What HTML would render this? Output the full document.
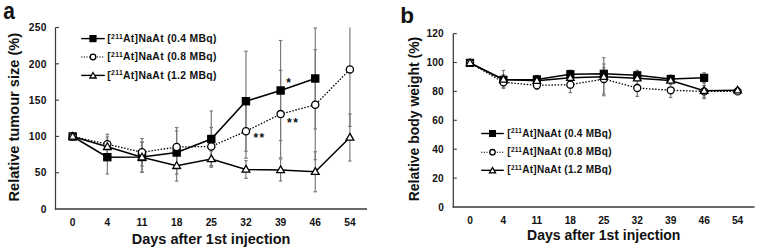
<!DOCTYPE html>
<html><head><meta charset="utf-8"><style>
html,body{margin:0;padding:0;background:#fff;}
body{width:760px;height:252px;overflow:hidden;}
svg{display:block;}
text{font-family:"Liberation Sans", sans-serif;font-weight:bold;fill:#111;}
</style></head><body>
<svg width="760" height="252" viewBox="0 0 760 252">
<rect width="760" height="252" fill="#fff"/>
<text transform="translate(3.2,18.5) scale(0.9,1)" font-size="23.2">a</text>
<line x1="55.5" y1="27.5" x2="55.5" y2="209.7" stroke="#3a3a3a" stroke-width="1.25"/>
<line x1="54.9" y1="209" x2="367" y2="209" stroke="#3a3a3a" stroke-width="1.45"/>
<text x="46.9" y="212.7" font-size="10.2" text-anchor="end" letter-spacing="0.4">0</text>
<line x1="55.5" y1="172.70" x2="59.0" y2="172.70" stroke="#3a3a3a" stroke-width="1.1"/>
<text x="46.9" y="176.39999999999998" font-size="10.2" text-anchor="end" letter-spacing="0.4">50</text>
<line x1="55.5" y1="136.40" x2="59.0" y2="136.40" stroke="#3a3a3a" stroke-width="1.1"/>
<text x="46.9" y="140.1" font-size="10.2" text-anchor="end" letter-spacing="0.4">100</text>
<line x1="55.5" y1="100.10" x2="59.0" y2="100.10" stroke="#3a3a3a" stroke-width="1.1"/>
<text x="46.9" y="103.8" font-size="10.2" text-anchor="end" letter-spacing="0.4">150</text>
<line x1="55.5" y1="63.80" x2="59.0" y2="63.80" stroke="#3a3a3a" stroke-width="1.1"/>
<text x="46.9" y="67.50000000000001" font-size="10.2" text-anchor="end" letter-spacing="0.4">200</text>
<line x1="55.5" y1="27.50" x2="59.0" y2="27.50" stroke="#3a3a3a" stroke-width="1.1"/>
<text x="46.9" y="31.2" font-size="10.2" text-anchor="end" letter-spacing="0.4">250</text>
<text x="72.70" y="225.8" font-size="10.2" text-anchor="middle" >0</text>
<text x="107.35" y="225.8" font-size="10.2" text-anchor="middle" >4</text>
<text x="142.00" y="225.8" font-size="10.2" text-anchor="middle" >11</text>
<text x="176.65" y="225.8" font-size="10.2" text-anchor="middle" >18</text>
<text x="211.30" y="225.8" font-size="10.2" text-anchor="middle" >25</text>
<text x="245.95" y="225.8" font-size="10.2" text-anchor="middle" >32</text>
<text x="280.60" y="225.8" font-size="10.2" text-anchor="middle" >39</text>
<text x="315.25" y="225.8" font-size="10.2" text-anchor="middle" >46</text>
<text x="349.90" y="225.8" font-size="10.2" text-anchor="middle" >54</text>
<text x="211.1" y="244" font-size="14.5" text-anchor="middle" >Days after 1st injection</text>
<text transform="translate(19.0,117.2) rotate(-90)" font-size="14.5" text-anchor="middle" textLength="168.5" lengthAdjust="spacingAndGlyphs">Relative tumour size (%)</text>
<line x1="107.35" y1="140.40" x2="107.35" y2="174.00" stroke="#777" stroke-width="1.15"/>
<line x1="105.60" y1="140.40" x2="109.10" y2="140.40" stroke="#777" stroke-width="1.15"/>
<line x1="105.60" y1="174.00" x2="109.10" y2="174.00" stroke="#777" stroke-width="1.15"/>
<line x1="142.00" y1="142.00" x2="142.00" y2="172.00" stroke="#777" stroke-width="1.15"/>
<line x1="140.25" y1="142.00" x2="143.75" y2="142.00" stroke="#777" stroke-width="1.15"/>
<line x1="140.25" y1="172.00" x2="143.75" y2="172.00" stroke="#777" stroke-width="1.15"/>
<line x1="176.65" y1="131.00" x2="176.65" y2="174.00" stroke="#777" stroke-width="1.15"/>
<line x1="174.90" y1="131.00" x2="178.40" y2="131.00" stroke="#777" stroke-width="1.15"/>
<line x1="174.90" y1="174.00" x2="178.40" y2="174.00" stroke="#777" stroke-width="1.15"/>
<line x1="211.30" y1="111.00" x2="211.30" y2="167.00" stroke="#777" stroke-width="1.15"/>
<line x1="209.55" y1="111.00" x2="213.05" y2="111.00" stroke="#777" stroke-width="1.15"/>
<line x1="209.55" y1="167.00" x2="213.05" y2="167.00" stroke="#777" stroke-width="1.15"/>
<line x1="245.95" y1="51.25" x2="245.95" y2="151.25" stroke="#777" stroke-width="1.15"/>
<line x1="244.20" y1="51.25" x2="247.70" y2="51.25" stroke="#777" stroke-width="1.15"/>
<line x1="244.20" y1="151.25" x2="247.70" y2="151.25" stroke="#777" stroke-width="1.15"/>
<line x1="280.60" y1="40.50" x2="280.60" y2="140.50" stroke="#777" stroke-width="1.15"/>
<line x1="278.85" y1="40.50" x2="282.35" y2="40.50" stroke="#777" stroke-width="1.15"/>
<line x1="278.85" y1="140.50" x2="282.35" y2="140.50" stroke="#777" stroke-width="1.15"/>
<line x1="315.25" y1="28.00" x2="315.25" y2="129.00" stroke="#777" stroke-width="1.15"/>
<line x1="313.50" y1="28.00" x2="317.00" y2="28.00" stroke="#777" stroke-width="1.15"/>
<line x1="313.50" y1="129.00" x2="317.00" y2="129.00" stroke="#777" stroke-width="1.15"/>
<line x1="107.35" y1="134.20" x2="107.35" y2="154.20" stroke="#777" stroke-width="1.15"/>
<line x1="105.60" y1="134.20" x2="109.10" y2="134.20" stroke="#777" stroke-width="1.15"/>
<line x1="105.60" y1="154.20" x2="109.10" y2="154.20" stroke="#777" stroke-width="1.15"/>
<line x1="142.00" y1="138.50" x2="142.00" y2="166.10" stroke="#777" stroke-width="1.15"/>
<line x1="140.25" y1="138.50" x2="143.75" y2="138.50" stroke="#777" stroke-width="1.15"/>
<line x1="140.25" y1="166.10" x2="143.75" y2="166.10" stroke="#777" stroke-width="1.15"/>
<line x1="176.65" y1="127.60" x2="176.65" y2="166.40" stroke="#777" stroke-width="1.15"/>
<line x1="174.90" y1="127.60" x2="178.40" y2="127.60" stroke="#777" stroke-width="1.15"/>
<line x1="174.90" y1="166.40" x2="178.40" y2="166.40" stroke="#777" stroke-width="1.15"/>
<line x1="211.30" y1="127.50" x2="211.30" y2="165.50" stroke="#777" stroke-width="1.15"/>
<line x1="209.55" y1="127.50" x2="213.05" y2="127.50" stroke="#777" stroke-width="1.15"/>
<line x1="209.55" y1="165.50" x2="213.05" y2="165.50" stroke="#777" stroke-width="1.15"/>
<line x1="245.95" y1="104.25" x2="245.95" y2="158.25" stroke="#777" stroke-width="1.15"/>
<line x1="244.20" y1="104.25" x2="247.70" y2="104.25" stroke="#777" stroke-width="1.15"/>
<line x1="244.20" y1="158.25" x2="247.70" y2="158.25" stroke="#777" stroke-width="1.15"/>
<line x1="280.60" y1="70.40" x2="280.60" y2="157.80" stroke="#777" stroke-width="1.15"/>
<line x1="278.85" y1="70.40" x2="282.35" y2="70.40" stroke="#777" stroke-width="1.15"/>
<line x1="278.85" y1="157.80" x2="282.35" y2="157.80" stroke="#777" stroke-width="1.15"/>
<line x1="315.25" y1="49.75" x2="315.25" y2="159.75" stroke="#777" stroke-width="1.15"/>
<line x1="313.50" y1="49.75" x2="317.00" y2="49.75" stroke="#777" stroke-width="1.15"/>
<line x1="313.50" y1="159.75" x2="317.00" y2="159.75" stroke="#777" stroke-width="1.15"/>
<line x1="349.90" y1="27.50" x2="349.90" y2="126.40" stroke="#777" stroke-width="1.15"/>
<line x1="348.15" y1="126.40" x2="351.65" y2="126.40" stroke="#777" stroke-width="1.15"/>
<line x1="107.35" y1="137.00" x2="107.35" y2="156.60" stroke="#777" stroke-width="1.15"/>
<line x1="105.60" y1="137.00" x2="109.10" y2="137.00" stroke="#777" stroke-width="1.15"/>
<line x1="105.60" y1="156.60" x2="109.10" y2="156.60" stroke="#777" stroke-width="1.15"/>
<line x1="142.00" y1="142.30" x2="142.00" y2="172.30" stroke="#777" stroke-width="1.15"/>
<line x1="140.25" y1="142.30" x2="143.75" y2="142.30" stroke="#777" stroke-width="1.15"/>
<line x1="140.25" y1="172.30" x2="143.75" y2="172.30" stroke="#777" stroke-width="1.15"/>
<line x1="176.65" y1="150.50" x2="176.65" y2="181.10" stroke="#777" stroke-width="1.15"/>
<line x1="174.90" y1="150.50" x2="178.40" y2="150.50" stroke="#777" stroke-width="1.15"/>
<line x1="174.90" y1="181.10" x2="178.40" y2="181.10" stroke="#777" stroke-width="1.15"/>
<line x1="211.30" y1="151.00" x2="211.30" y2="167.00" stroke="#777" stroke-width="1.15"/>
<line x1="209.55" y1="151.00" x2="213.05" y2="151.00" stroke="#777" stroke-width="1.15"/>
<line x1="209.55" y1="167.00" x2="213.05" y2="167.00" stroke="#777" stroke-width="1.15"/>
<line x1="245.95" y1="160.70" x2="245.95" y2="178.30" stroke="#777" stroke-width="1.15"/>
<line x1="244.20" y1="160.70" x2="247.70" y2="160.70" stroke="#777" stroke-width="1.15"/>
<line x1="244.20" y1="178.30" x2="247.70" y2="178.30" stroke="#777" stroke-width="1.15"/>
<line x1="280.60" y1="159.00" x2="280.60" y2="181.00" stroke="#777" stroke-width="1.15"/>
<line x1="278.85" y1="159.00" x2="282.35" y2="159.00" stroke="#777" stroke-width="1.15"/>
<line x1="278.85" y1="181.00" x2="282.35" y2="181.00" stroke="#777" stroke-width="1.15"/>
<line x1="315.25" y1="151.75" x2="315.25" y2="191.75" stroke="#777" stroke-width="1.15"/>
<line x1="313.50" y1="151.75" x2="317.00" y2="151.75" stroke="#777" stroke-width="1.15"/>
<line x1="313.50" y1="191.75" x2="317.00" y2="191.75" stroke="#777" stroke-width="1.15"/>
<line x1="349.90" y1="114.00" x2="349.90" y2="161.00" stroke="#777" stroke-width="1.15"/>
<line x1="348.15" y1="114.00" x2="351.65" y2="114.00" stroke="#777" stroke-width="1.15"/>
<line x1="348.15" y1="161.00" x2="351.65" y2="161.00" stroke="#777" stroke-width="1.15"/>
<polyline points="72.70,136.50 107.35,157.20 142.00,157.00 176.65,152.50 211.30,139.00 245.95,101.25 280.60,90.50 315.25,78.50" fill="none" stroke="#000" stroke-width="1.5"/>
<polyline points="72.70,136.50 107.35,144.20 142.00,152.30 176.65,147.00 211.30,146.50 245.95,131.25 280.60,114.10 315.25,104.75 349.90,69.40" fill="none" stroke="#000" stroke-width="1.3" stroke-dasharray="1.5,1.6"/>
<polyline points="72.70,136.50 107.35,146.80 142.00,157.30 176.65,165.80 211.30,159.00 245.95,169.50 280.60,170.00 315.25,171.75 349.90,137.50" fill="none" stroke="#000" stroke-width="1.5"/>
<rect x="69.10" y="132.90" width="7.2" height="7.2" fill="#000" stroke="#000" stroke-width="1.2"/>
<rect x="103.75" y="153.60" width="7.2" height="7.2" fill="#000" stroke="#000" stroke-width="1.2"/>
<rect x="138.40" y="153.40" width="7.2" height="7.2" fill="#000" stroke="#000" stroke-width="1.2"/>
<rect x="173.05" y="148.90" width="7.2" height="7.2" fill="#000" stroke="#000" stroke-width="1.2"/>
<rect x="207.70" y="135.40" width="7.2" height="7.2" fill="#000" stroke="#000" stroke-width="1.2"/>
<rect x="242.35" y="97.65" width="7.2" height="7.2" fill="#000" stroke="#000" stroke-width="1.2"/>
<rect x="277.00" y="86.90" width="7.2" height="7.2" fill="#000" stroke="#000" stroke-width="1.2"/>
<rect x="311.65" y="74.90" width="7.2" height="7.2" fill="#000" stroke="#000" stroke-width="1.2"/>
<circle cx="72.70" cy="136.50" r="3.6" fill="#fff" stroke="#000" stroke-width="1.3"/>
<circle cx="107.35" cy="144.20" r="3.6" fill="#fff" stroke="#000" stroke-width="1.3"/>
<circle cx="142.00" cy="152.30" r="3.6" fill="#fff" stroke="#000" stroke-width="1.3"/>
<circle cx="176.65" cy="147.00" r="3.6" fill="#fff" stroke="#000" stroke-width="1.3"/>
<circle cx="211.30" cy="146.50" r="3.6" fill="#fff" stroke="#000" stroke-width="1.3"/>
<circle cx="245.95" cy="131.25" r="3.6" fill="#fff" stroke="#000" stroke-width="1.3"/>
<circle cx="280.60" cy="114.10" r="3.6" fill="#fff" stroke="#000" stroke-width="1.3"/>
<circle cx="315.25" cy="104.75" r="3.6" fill="#fff" stroke="#000" stroke-width="1.3"/>
<circle cx="349.90" cy="69.40" r="3.6" fill="#fff" stroke="#000" stroke-width="1.3"/>
<polygon points="72.70,132.43 76.60,139.21 68.80,139.21" fill="#fff" stroke="#000" stroke-width="1.3" stroke-linejoin="miter"/>
<polygon points="107.35,142.73 111.25,149.51 103.45,149.51" fill="#fff" stroke="#000" stroke-width="1.3" stroke-linejoin="miter"/>
<polygon points="142.00,153.23 145.90,160.01 138.10,160.01" fill="#fff" stroke="#000" stroke-width="1.3" stroke-linejoin="miter"/>
<polygon points="176.65,161.73 180.55,168.51 172.75,168.51" fill="#fff" stroke="#000" stroke-width="1.3" stroke-linejoin="miter"/>
<polygon points="211.30,154.93 215.20,161.71 207.40,161.71" fill="#fff" stroke="#000" stroke-width="1.3" stroke-linejoin="miter"/>
<polygon points="245.95,165.43 249.85,172.21 242.05,172.21" fill="#fff" stroke="#000" stroke-width="1.3" stroke-linejoin="miter"/>
<polygon points="280.60,165.93 284.50,172.71 276.70,172.71" fill="#fff" stroke="#000" stroke-width="1.3" stroke-linejoin="miter"/>
<polygon points="315.25,167.68 319.15,174.46 311.35,174.46" fill="#fff" stroke="#000" stroke-width="1.3" stroke-linejoin="miter"/>
<polygon points="349.90,133.43 353.80,140.21 346.00,140.21" fill="#fff" stroke="#000" stroke-width="1.3" stroke-linejoin="miter"/>
<text x="286.2" y="87.15" font-size="12" text-anchor="start" font-weight="normal" letter-spacing="1.4">*</text>
<text x="253.4" y="142.1" font-size="12" text-anchor="start" font-weight="normal" letter-spacing="1.4">**</text>
<text x="287.1" y="127.3" font-size="12" text-anchor="start" font-weight="normal" letter-spacing="1.4">**</text>
<line x1="81.2" y1="38.6" x2="104.8" y2="38.6" stroke="#000" stroke-width="1.4"/>
<rect x="90.00" y="35.60" width="6.0" height="6.0" fill="#000" stroke="#000" stroke-width="1.2"/>
<text x="107.3" y="42.0" font-size="10.4" letter-spacing="0.32">[<tspan font-size="6.8" dy="-3.43">211</tspan><tspan dy="3.43">At]NaAt (0.4 MBq)</tspan></text>
<line x1="81.2" y1="57.0" x2="104.8" y2="57.0" stroke="#000" stroke-width="1.1" stroke-dasharray="1.2,1.4"/>
<circle cx="93.00" cy="57.00" r="2.8" fill="#fff" stroke="#000" stroke-width="1.3"/>
<text x="107.3" y="60.4" font-size="10.4" letter-spacing="0.32">[<tspan font-size="6.8" dy="-3.43">211</tspan><tspan dy="3.43">At]NaAt (0.8 MBq)</tspan></text>
<line x1="81.2" y1="75.4" x2="104.8" y2="75.4" stroke="#000" stroke-width="1.4"/>
<polygon points="93.00,72.51 96.15,77.99 89.85,77.99" fill="#fff" stroke="#000" stroke-width="1.3" stroke-linejoin="miter"/>
<text x="107.3" y="78.80000000000001" font-size="10.4" letter-spacing="0.32">[<tspan font-size="6.8" dy="-3.43">211</tspan><tspan dy="3.43">At]NaAt (1.2 MBq)</tspan></text>
<text x="400.2" y="23.3" font-size="22.5" text-anchor="start" >b</text>
<line x1="453.3" y1="33.6" x2="453.3" y2="207.7" stroke="#3a3a3a" stroke-width="1.25"/>
<line x1="452.7" y1="207" x2="754.5" y2="207" stroke="#3a3a3a" stroke-width="1.45"/>
<text x="443.9" y="210.6" font-size="10.1" text-anchor="end" letter-spacing="0.15">0</text>
<line x1="453.3" y1="178.10" x2="456.8" y2="178.10" stroke="#3a3a3a" stroke-width="1.1"/>
<text x="443.9" y="181.7" font-size="10.1" text-anchor="end" letter-spacing="0.15">20</text>
<line x1="453.3" y1="149.20" x2="456.8" y2="149.20" stroke="#3a3a3a" stroke-width="1.1"/>
<text x="443.9" y="152.79999999999998" font-size="10.1" text-anchor="end" letter-spacing="0.15">40</text>
<line x1="453.3" y1="120.30" x2="456.8" y2="120.30" stroke="#3a3a3a" stroke-width="1.1"/>
<text x="443.9" y="123.89999999999999" font-size="10.1" text-anchor="end" letter-spacing="0.15">60</text>
<line x1="453.3" y1="91.40" x2="456.8" y2="91.40" stroke="#3a3a3a" stroke-width="1.1"/>
<text x="443.9" y="95.0" font-size="10.1" text-anchor="end" letter-spacing="0.15">80</text>
<line x1="453.3" y1="62.50" x2="456.8" y2="62.50" stroke="#3a3a3a" stroke-width="1.1"/>
<text x="443.9" y="66.1" font-size="10.1" text-anchor="end" letter-spacing="0.15">100</text>
<line x1="453.3" y1="33.60" x2="456.8" y2="33.60" stroke="#3a3a3a" stroke-width="1.1"/>
<text x="443.9" y="37.199999999999996" font-size="10.1" text-anchor="end" letter-spacing="0.15">120</text>
<text x="470.00" y="223.5" font-size="10.2" text-anchor="middle" >0</text>
<text x="503.45" y="223.5" font-size="10.2" text-anchor="middle" >4</text>
<text x="536.90" y="223.5" font-size="10.2" text-anchor="middle" >11</text>
<text x="570.35" y="223.5" font-size="10.2" text-anchor="middle" >18</text>
<text x="603.80" y="223.5" font-size="10.2" text-anchor="middle" >25</text>
<text x="637.25" y="223.5" font-size="10.2" text-anchor="middle" >32</text>
<text x="670.70" y="223.5" font-size="10.2" text-anchor="middle" >39</text>
<text x="704.15" y="223.5" font-size="10.2" text-anchor="middle" >46</text>
<text x="737.60" y="223.5" font-size="10.2" text-anchor="middle" >54</text>
<text x="603.75" y="239.6" font-size="14" text-anchor="middle" >Days after 1st injection</text>
<text transform="translate(418.5,119.0) rotate(-90)" font-size="14" text-anchor="middle" textLength="164.5" lengthAdjust="spacingAndGlyphs">Relative body weight (%)</text>
<line x1="503.45" y1="74.80" x2="503.45" y2="84.80" stroke="#777" stroke-width="1.15"/>
<line x1="501.70" y1="74.80" x2="505.20" y2="74.80" stroke="#777" stroke-width="1.15"/>
<line x1="501.70" y1="84.80" x2="505.20" y2="84.80" stroke="#777" stroke-width="1.15"/>
<line x1="536.90" y1="75.40" x2="536.90" y2="83.40" stroke="#777" stroke-width="1.15"/>
<line x1="535.15" y1="75.40" x2="538.65" y2="75.40" stroke="#777" stroke-width="1.15"/>
<line x1="535.15" y1="83.40" x2="538.65" y2="83.40" stroke="#777" stroke-width="1.15"/>
<line x1="570.35" y1="70.20" x2="570.35" y2="78.20" stroke="#777" stroke-width="1.15"/>
<line x1="568.60" y1="70.20" x2="572.10" y2="70.20" stroke="#777" stroke-width="1.15"/>
<line x1="568.60" y1="78.20" x2="572.10" y2="78.20" stroke="#777" stroke-width="1.15"/>
<line x1="603.80" y1="67.75" x2="603.80" y2="79.75" stroke="#777" stroke-width="1.15"/>
<line x1="602.05" y1="67.75" x2="605.55" y2="67.75" stroke="#777" stroke-width="1.15"/>
<line x1="602.05" y1="79.75" x2="605.55" y2="79.75" stroke="#777" stroke-width="1.15"/>
<line x1="637.25" y1="70.30" x2="637.25" y2="80.30" stroke="#777" stroke-width="1.15"/>
<line x1="635.50" y1="70.30" x2="639.00" y2="70.30" stroke="#777" stroke-width="1.15"/>
<line x1="635.50" y1="80.30" x2="639.00" y2="80.30" stroke="#777" stroke-width="1.15"/>
<line x1="670.70" y1="75.00" x2="670.70" y2="83.00" stroke="#777" stroke-width="1.15"/>
<line x1="668.95" y1="75.00" x2="672.45" y2="75.00" stroke="#777" stroke-width="1.15"/>
<line x1="668.95" y1="83.00" x2="672.45" y2="83.00" stroke="#777" stroke-width="1.15"/>
<line x1="704.15" y1="72.80" x2="704.15" y2="82.80" stroke="#777" stroke-width="1.15"/>
<line x1="702.40" y1="72.80" x2="705.90" y2="72.80" stroke="#777" stroke-width="1.15"/>
<line x1="702.40" y1="82.80" x2="705.90" y2="82.80" stroke="#777" stroke-width="1.15"/>
<line x1="503.45" y1="77.30" x2="503.45" y2="87.30" stroke="#777" stroke-width="1.15"/>
<line x1="501.70" y1="77.30" x2="505.20" y2="77.30" stroke="#777" stroke-width="1.15"/>
<line x1="501.70" y1="87.30" x2="505.20" y2="87.30" stroke="#777" stroke-width="1.15"/>
<line x1="536.90" y1="81.30" x2="536.90" y2="89.30" stroke="#777" stroke-width="1.15"/>
<line x1="535.15" y1="81.30" x2="538.65" y2="81.30" stroke="#777" stroke-width="1.15"/>
<line x1="535.15" y1="89.30" x2="538.65" y2="89.30" stroke="#777" stroke-width="1.15"/>
<line x1="570.35" y1="76.70" x2="570.35" y2="92.70" stroke="#777" stroke-width="1.15"/>
<line x1="568.60" y1="76.70" x2="572.10" y2="76.70" stroke="#777" stroke-width="1.15"/>
<line x1="568.60" y1="92.70" x2="572.10" y2="92.70" stroke="#777" stroke-width="1.15"/>
<line x1="603.80" y1="64.00" x2="603.80" y2="94.00" stroke="#777" stroke-width="1.15"/>
<line x1="602.05" y1="64.00" x2="605.55" y2="64.00" stroke="#777" stroke-width="1.15"/>
<line x1="602.05" y1="94.00" x2="605.55" y2="94.00" stroke="#777" stroke-width="1.15"/>
<line x1="637.25" y1="79.60" x2="637.25" y2="96.40" stroke="#777" stroke-width="1.15"/>
<line x1="635.50" y1="79.60" x2="639.00" y2="79.60" stroke="#777" stroke-width="1.15"/>
<line x1="635.50" y1="96.40" x2="639.00" y2="96.40" stroke="#777" stroke-width="1.15"/>
<line x1="670.70" y1="83.10" x2="670.70" y2="97.50" stroke="#777" stroke-width="1.15"/>
<line x1="668.95" y1="83.10" x2="672.45" y2="83.10" stroke="#777" stroke-width="1.15"/>
<line x1="668.95" y1="97.50" x2="672.45" y2="97.50" stroke="#777" stroke-width="1.15"/>
<line x1="704.15" y1="85.40" x2="704.15" y2="97.40" stroke="#777" stroke-width="1.15"/>
<line x1="702.40" y1="85.40" x2="705.90" y2="85.40" stroke="#777" stroke-width="1.15"/>
<line x1="702.40" y1="97.40" x2="705.90" y2="97.40" stroke="#777" stroke-width="1.15"/>
<line x1="737.60" y1="89.40" x2="737.60" y2="93.40" stroke="#777" stroke-width="1.15"/>
<line x1="735.85" y1="89.40" x2="739.35" y2="89.40" stroke="#777" stroke-width="1.15"/>
<line x1="735.85" y1="93.40" x2="739.35" y2="93.40" stroke="#777" stroke-width="1.15"/>
<line x1="503.45" y1="70.40" x2="503.45" y2="88.40" stroke="#777" stroke-width="1.15"/>
<line x1="501.70" y1="70.40" x2="505.20" y2="70.40" stroke="#777" stroke-width="1.15"/>
<line x1="501.70" y1="88.40" x2="505.20" y2="88.40" stroke="#777" stroke-width="1.15"/>
<line x1="536.90" y1="76.75" x2="536.90" y2="84.75" stroke="#777" stroke-width="1.15"/>
<line x1="535.15" y1="76.75" x2="538.65" y2="76.75" stroke="#777" stroke-width="1.15"/>
<line x1="535.15" y1="84.75" x2="538.65" y2="84.75" stroke="#777" stroke-width="1.15"/>
<line x1="570.35" y1="73.80" x2="570.35" y2="81.80" stroke="#777" stroke-width="1.15"/>
<line x1="568.60" y1="73.80" x2="572.10" y2="73.80" stroke="#777" stroke-width="1.15"/>
<line x1="568.60" y1="81.80" x2="572.10" y2="81.80" stroke="#777" stroke-width="1.15"/>
<line x1="603.80" y1="57.70" x2="603.80" y2="95.70" stroke="#777" stroke-width="1.15"/>
<line x1="602.05" y1="57.70" x2="605.55" y2="57.70" stroke="#777" stroke-width="1.15"/>
<line x1="602.05" y1="95.70" x2="605.55" y2="95.70" stroke="#777" stroke-width="1.15"/>
<line x1="637.25" y1="72.30" x2="637.25" y2="84.30" stroke="#777" stroke-width="1.15"/>
<line x1="635.50" y1="72.30" x2="639.00" y2="72.30" stroke="#777" stroke-width="1.15"/>
<line x1="635.50" y1="84.30" x2="639.00" y2="84.30" stroke="#777" stroke-width="1.15"/>
<line x1="670.70" y1="76.50" x2="670.70" y2="84.50" stroke="#777" stroke-width="1.15"/>
<line x1="668.95" y1="76.50" x2="672.45" y2="76.50" stroke="#777" stroke-width="1.15"/>
<line x1="668.95" y1="84.50" x2="672.45" y2="84.50" stroke="#777" stroke-width="1.15"/>
<line x1="704.15" y1="82.70" x2="704.15" y2="98.70" stroke="#777" stroke-width="1.15"/>
<line x1="702.40" y1="82.70" x2="705.90" y2="82.70" stroke="#777" stroke-width="1.15"/>
<line x1="702.40" y1="98.70" x2="705.90" y2="98.70" stroke="#777" stroke-width="1.15"/>
<line x1="737.60" y1="88.30" x2="737.60" y2="92.30" stroke="#777" stroke-width="1.15"/>
<line x1="735.85" y1="88.30" x2="739.35" y2="88.30" stroke="#777" stroke-width="1.15"/>
<line x1="735.85" y1="92.30" x2="739.35" y2="92.30" stroke="#777" stroke-width="1.15"/>
<polyline points="470.00,62.90 503.45,79.80 536.90,79.40 570.35,74.20 603.80,73.75 637.25,75.30 670.70,79.00 704.15,77.80" fill="none" stroke="#000" stroke-width="1.5"/>
<polyline points="470.00,62.90 503.45,82.30 536.90,85.30 570.35,84.70 603.80,79.00 637.25,88.00 670.70,90.30 704.15,91.40 737.60,91.40" fill="none" stroke="#000" stroke-width="1.3" stroke-dasharray="1.5,1.6"/>
<polyline points="470.00,62.90 503.45,79.40 536.90,80.75 570.35,77.80 603.80,76.70 637.25,78.30 670.70,80.50 704.15,90.70 737.60,90.30" fill="none" stroke="#000" stroke-width="1.5"/>
<rect x="466.50" y="59.40" width="7.0" height="7.0" fill="#000" stroke="#000" stroke-width="1.2"/>
<rect x="499.95" y="76.30" width="7.0" height="7.0" fill="#000" stroke="#000" stroke-width="1.2"/>
<rect x="533.40" y="75.90" width="7.0" height="7.0" fill="#000" stroke="#000" stroke-width="1.2"/>
<rect x="566.85" y="70.70" width="7.0" height="7.0" fill="#000" stroke="#000" stroke-width="1.2"/>
<rect x="600.30" y="70.25" width="7.0" height="7.0" fill="#000" stroke="#000" stroke-width="1.2"/>
<rect x="633.75" y="71.80" width="7.0" height="7.0" fill="#000" stroke="#000" stroke-width="1.2"/>
<rect x="667.20" y="75.50" width="7.0" height="7.0" fill="#000" stroke="#000" stroke-width="1.2"/>
<rect x="700.65" y="74.30" width="7.0" height="7.0" fill="#000" stroke="#000" stroke-width="1.2"/>
<circle cx="470.00" cy="62.90" r="3.5" fill="#fff" stroke="#000" stroke-width="1.3"/>
<circle cx="503.45" cy="82.30" r="3.5" fill="#fff" stroke="#000" stroke-width="1.3"/>
<circle cx="536.90" cy="85.30" r="3.5" fill="#fff" stroke="#000" stroke-width="1.3"/>
<circle cx="570.35" cy="84.70" r="3.5" fill="#fff" stroke="#000" stroke-width="1.3"/>
<circle cx="603.80" cy="79.00" r="3.5" fill="#fff" stroke="#000" stroke-width="1.3"/>
<circle cx="637.25" cy="88.00" r="3.5" fill="#fff" stroke="#000" stroke-width="1.3"/>
<circle cx="670.70" cy="90.30" r="3.5" fill="#fff" stroke="#000" stroke-width="1.3"/>
<circle cx="704.15" cy="91.40" r="3.5" fill="#fff" stroke="#000" stroke-width="1.3"/>
<circle cx="737.60" cy="91.40" r="3.5" fill="#fff" stroke="#000" stroke-width="1.3"/>
<polygon points="470.00,58.93 473.80,65.54 466.20,65.54" fill="#fff" stroke="#000" stroke-width="1.3" stroke-linejoin="miter"/>
<polygon points="503.45,75.43 507.25,82.04 499.65,82.04" fill="#fff" stroke="#000" stroke-width="1.3" stroke-linejoin="miter"/>
<polygon points="536.90,76.78 540.70,83.39 533.10,83.39" fill="#fff" stroke="#000" stroke-width="1.3" stroke-linejoin="miter"/>
<polygon points="570.35,73.83 574.15,80.44 566.55,80.44" fill="#fff" stroke="#000" stroke-width="1.3" stroke-linejoin="miter"/>
<polygon points="603.80,72.73 607.60,79.34 600.00,79.34" fill="#fff" stroke="#000" stroke-width="1.3" stroke-linejoin="miter"/>
<polygon points="637.25,74.33 641.05,80.94 633.45,80.94" fill="#fff" stroke="#000" stroke-width="1.3" stroke-linejoin="miter"/>
<polygon points="670.70,76.53 674.50,83.14 666.90,83.14" fill="#fff" stroke="#000" stroke-width="1.3" stroke-linejoin="miter"/>
<polygon points="704.15,86.73 707.95,93.34 700.35,93.34" fill="#fff" stroke="#000" stroke-width="1.3" stroke-linejoin="miter"/>
<polygon points="737.60,86.33 741.40,92.94 733.80,92.94" fill="#fff" stroke="#000" stroke-width="1.3" stroke-linejoin="miter"/>
<line x1="481.2" y1="133.5" x2="503.8" y2="133.5" stroke="#000" stroke-width="1.4"/>
<rect x="489.60" y="130.60" width="5.8" height="5.8" fill="#000" stroke="#000" stroke-width="1.2"/>
<text x="507.3" y="136.5" font-size="10.0" letter-spacing="0.27">[<tspan font-size="6.5" dy="-3.30">211</tspan><tspan dy="3.30">At]NaAt (0.4 MBq)</tspan></text>
<line x1="481.2" y1="152.2" x2="503.8" y2="152.2" stroke="#000" stroke-width="1.1" stroke-dasharray="1.2,1.4"/>
<circle cx="492.50" cy="152.20" r="2.7" fill="#fff" stroke="#000" stroke-width="1.3"/>
<text x="507.3" y="155.2" font-size="10.0" letter-spacing="0.27">[<tspan font-size="6.5" dy="-3.30">211</tspan><tspan dy="3.30">At]NaAt (0.8 MBq)</tspan></text>
<line x1="481.2" y1="170.3" x2="503.8" y2="170.3" stroke="#000" stroke-width="1.4"/>
<polygon points="492.50,167.52 495.55,172.82 489.45,172.82" fill="#fff" stroke="#000" stroke-width="1.3" stroke-linejoin="miter"/>
<text x="507.3" y="173.3" font-size="10.0" letter-spacing="0.27">[<tspan font-size="6.5" dy="-3.30">211</tspan><tspan dy="3.30">At]NaAt (1.2 MBq)</tspan></text>
</svg>
</body></html>
